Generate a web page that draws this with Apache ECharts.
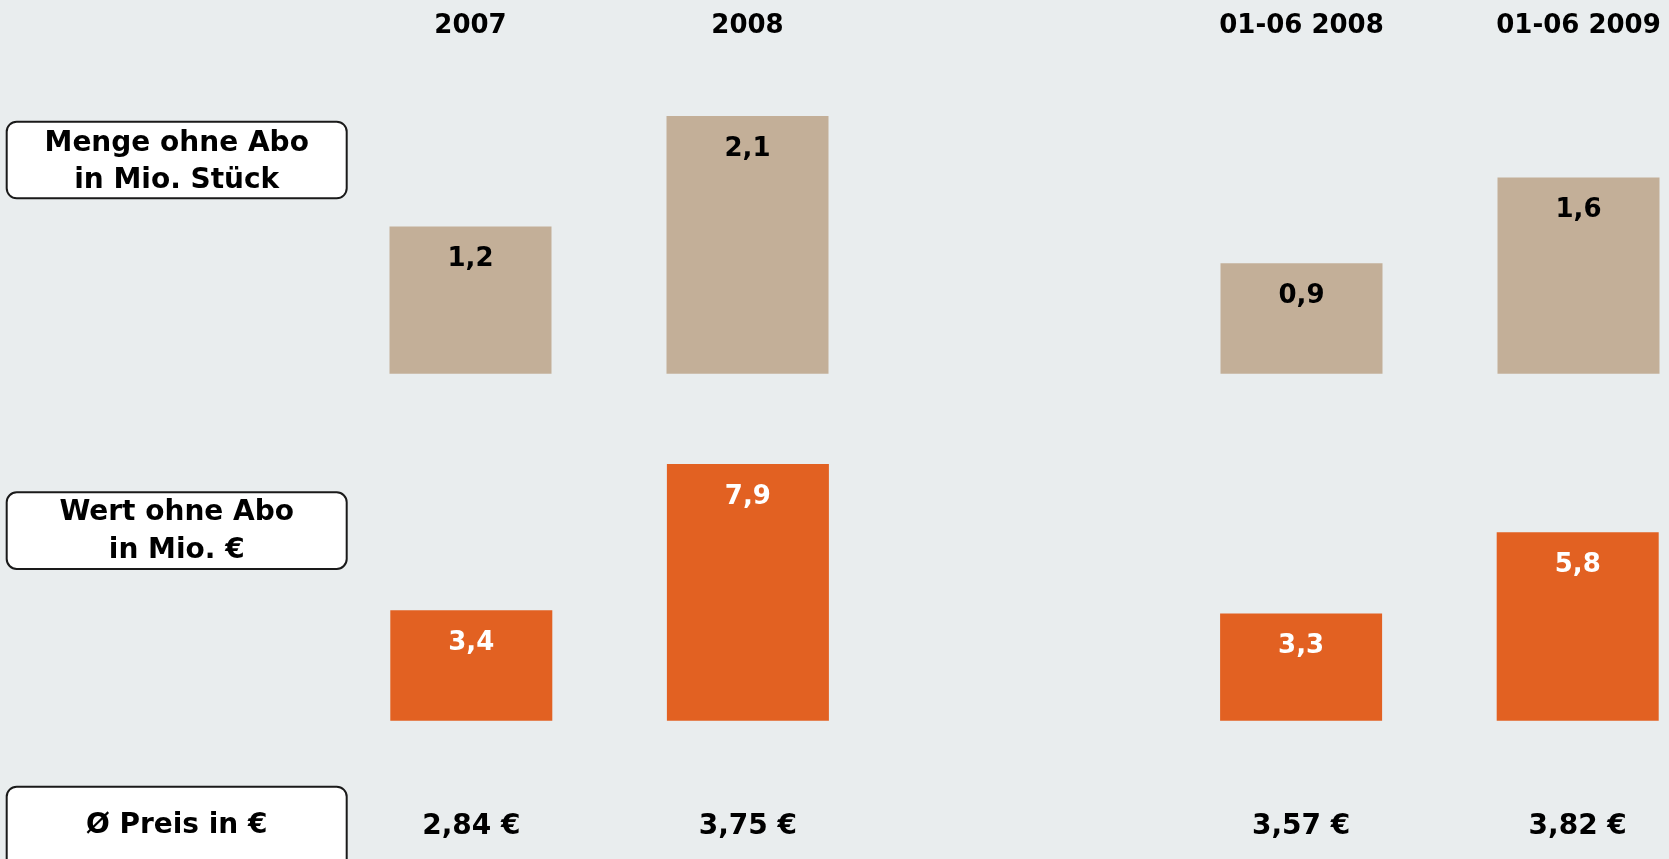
<!DOCTYPE html>
<html><head><meta charset="utf-8">
<script src="https://cdn.jsdelivr.net/npm/echarts@6/dist/echarts.min.js"></script>
<style>html,body{margin:0;padding:0;background:#E9EDEE;}#c{width:1669px;height:859px;}</style>
</head><body><div id="c"></div>
<script>
// Data
const categories = ['2007', '2008', '', '01-06 2008', '01-06 2009'];
const mengeValues = [1.2, 2.1, '-', 0.9, 1.6];      // Menge ohne Abo in Mio. Stück
const wertValues = [3.4, 7.9, '-', 3.3, 5.8];       // Wert ohne Abo in Mio. €
const preisValues = [2.84, 3.75, null, 3.57, 3.82]; // Ø Preis in €
const rowLabels = ['Menge ohne Abo\nin Mio. Stück', 'Wert ohne Abo\nin Mio. €', 'Ø Preis in €'];

const FONT = '"DejaVu Sans", Verdana, sans-serif';
const TAN = '#C3AF98';
const ORANGE = '#E26122';
const fmt1 = v => (typeof v === 'number') ? v.toFixed(1).replace('.', ',') : '';

const chart = echarts.init(document.getElementById('c'));

function box(y, h, text, ty, lh) {
  return [
    { type: 'rect', shape: { x: 6.7, y: y, width: 340, height: h, r: 10 },
      style: { fill: '#ffffff', stroke: '#1a1a1a', lineWidth: 2 }, z: 10 },
    { type: 'text', x: 176.7, y: ty, z: 11,
      style: { text: text, fill: '#000', fontFamily: FONT, fontWeight: 'bold', fontSize: 28,
               lineHeight: lh, align: 'center', verticalAlign: 'middle' } }
  ];
}

chart.setOption({
  backgroundColor: '#E9EDEE',
  animation: false,
  grid: [
    { left: 332, top: 67, width: 1385, height: 306.7, outerBoundsMode: 'none', containLabel: false },
    { left: 333, top: 395.8, width: 1383, height: 324.9, outerBoundsMode: 'none', containLabel: false }
  ],
  xAxis: [
    { type: 'category', gridIndex: 0, position: 'top', data: categories,
      axisLine: { show: false }, axisTick: { show: false },
      axisLabel: { interval: 0, margin: 41, verticalAlign: 'middle', color: '#000',
                   fontFamily: FONT, fontWeight: 'bold', fontSize: 26 } },
    { type: 'category', gridIndex: 1, position: 'bottom', data: categories,
      axisLine: { show: false }, axisTick: { show: false },
      axisLabel: { interval: 0, margin: 106, verticalAlign: 'middle', color: '#000',
                   fontFamily: FONT, fontWeight: 'bold', fontSize: 28,
                   formatter: (v, i) => preisValues[i] == null ? '' : preisValues[i].toFixed(2).replace('.', ',') + ' €' } }
  ],
  yAxis: [
    { type: 'value', gridIndex: 0, min: 0, max: 2.5, show: false, splitLine: { show: false } },
    { type: 'value', gridIndex: 1, min: 0, max: 10, show: false, splitLine: { show: false } }
  ],
  series: [
    { type: 'bar', xAxisIndex: 0, yAxisIndex: 0, data: mengeValues, barWidth: 162,
      itemStyle: { color: TAN },
      label: { show: true, position: 'insideTop', distance: 20, color: '#000',
               fontFamily: FONT, fontWeight: 'bold', fontSize: 26,
               formatter: p => fmt1(p.value) } },
    { type: 'bar', xAxisIndex: 1, yAxisIndex: 1, data: wertValues, barWidth: 162,
      itemStyle: { color: ORANGE },
      label: { show: true, position: 'insideTop', distance: 20, color: '#fff',
               fontFamily: FONT, fontWeight: 'bold', fontSize: 26,
               formatter: p => fmt1(p.value) } }
  ],
  graphic: [].concat(
    box(121.7, 76.6, rowLabels[0], 162, 37),
    box(492.3, 76.7, rowLabels[1], 532, 38),
    box(786.7, 90, rowLabels[2], 826, 34)
  )
});
</script>
</body></html>
